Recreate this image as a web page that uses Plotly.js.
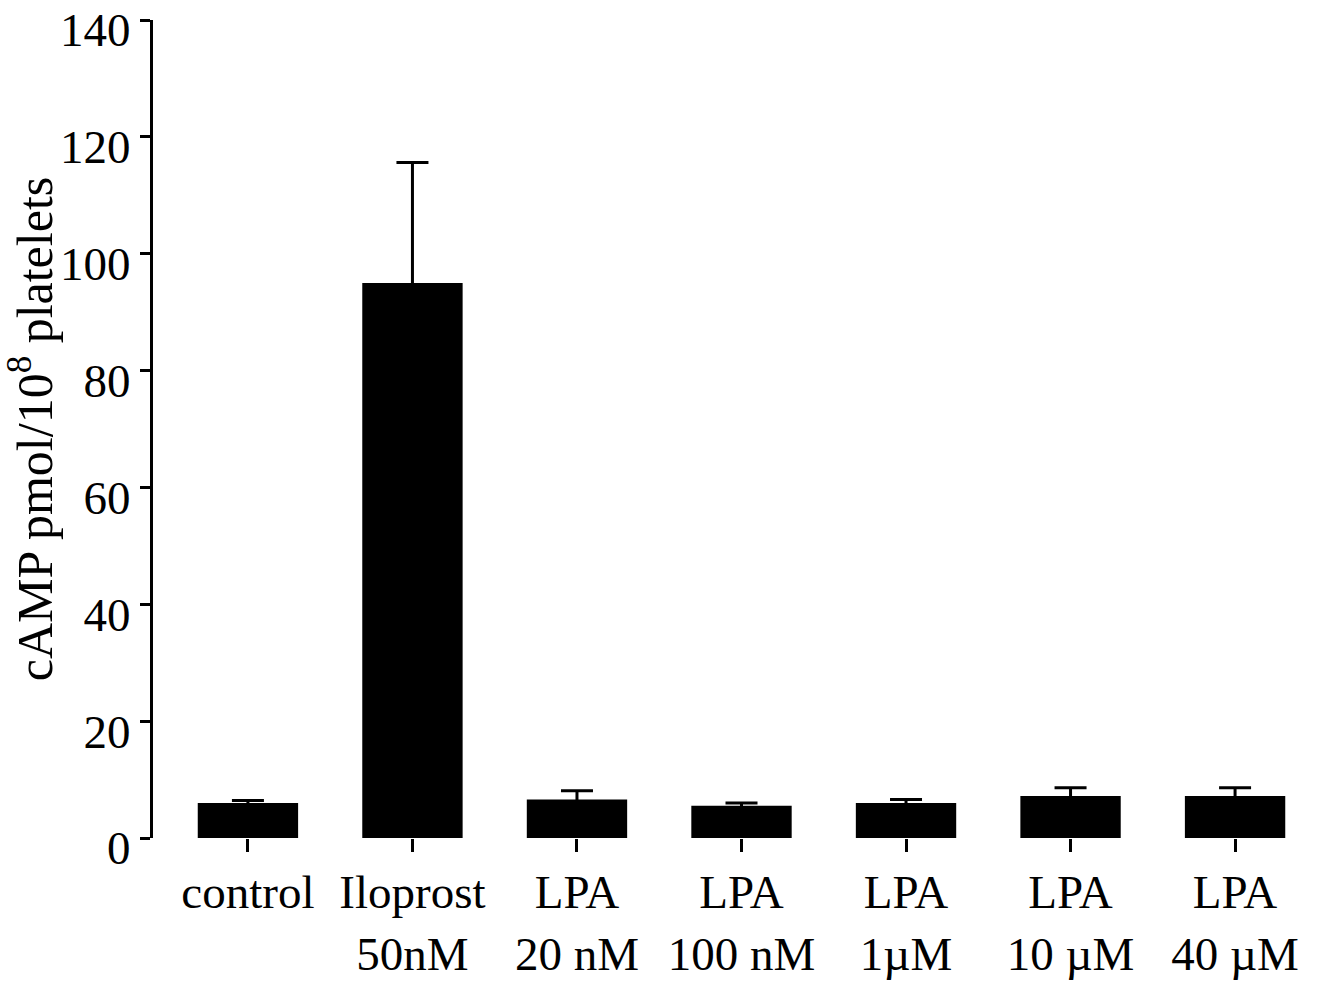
<!DOCTYPE html>
<html>
<head>
<meta charset="utf-8">
<script src="https://cdn.plot.ly/plotly-3.0.1.min.js"></script>
<style>html,body{margin:0;padding:0;background:#fff;}#chart{width:1337px;height:981px;}</style>
</head>
<body>
<div id="chart"></div>
<script>
const categories = ["control", "Iloprost<br>50nM", "LPA<br>20 nM", "LPA<br>100 nM", "LPA<br>1µM", "LPA<br>10 µM", "LPA<br>40 µM"];
const camp = [6.0, 95.0, 6.6, 5.5, 6.0, 7.2, 7.2];
const sem = [0.4, 20.6, 1.5, 0.5, 0.6, 1.4, 1.4];
const yTicks = [0, 20, 40, 60, 80, 100, 120, 140];

const font = "Liberation Serif, Times New Roman, serif";
const trace = {
  type: "bar",
  x: categories,
  y: camp,
  marker: {color: "#000000", line: {width: 0}},
  width: 0.61,
  error_y: {type: "data", array: sem, visible: true, color: "#000000", thickness: 3, width: 16},
  hoverinfo: "none"
};
const layout = {
  width: 1337, height: 981,
  margin: {l: 153, r: 7, t: 20, b: 143},
  paper_bgcolor: "#ffffff", plot_bgcolor: "#ffffff",
  showlegend: false,
  font: {family: font, color: "#000000", size: 46},
  xaxis: {
    type: "category",
    range: [-0.577, 6.577],
    showline: false, showgrid: false, zeroline: false,
    ticks: "outside", ticklen: 13, tickwidth: 3, tickcolor: "#000000",
    ticklabeloverflow: "allow",
    tickfont: {family: font, size: 47, color: "#000000"}
  },
  yaxis: {
    range: [0, 140],
    tickvals: yTicks,
    ticktext: yTicks.map(String),
    showline: true, linewidth: 3, linecolor: "#000000",
    showgrid: false, zeroline: false,
    ticks: "outside", ticklen: 10, tickwidth: 3, tickcolor: "#000000",
    ticklabeloverflow: "allow",
    ticklabelshift: 10,
    ticklabelstandoff: 0,
    tickfont: {family: font, size: 47, color: "#000000"},
    title: {text: "cAMP pmol/10<sup>8</sup> platelets", font: {family: font, size: 50, color: "#000000"}, standoff: 4}
  }
};
Plotly.newPlot("chart", [trace], layout, {displayModeBar: false, staticPlot: true});
</script>
</body>
</html>
